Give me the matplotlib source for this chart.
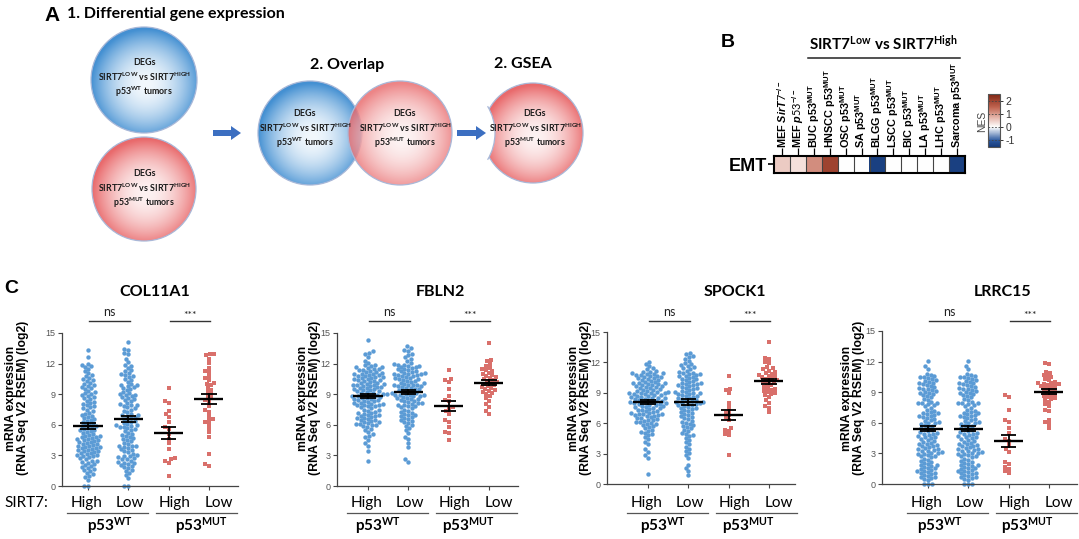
import numpy as np
import matplotlib
matplotlib.use('Agg')
import matplotlib.pyplot as plt
import matplotlib.transforms as mtrans
from matplotlib.patches import Circle, FancyArrow, Arc
from matplotlib.colors import LinearSegmentedColormap, Normalize, to_rgb
from matplotlib.cm import ScalarMappable

plt.rcParams['font.family'] = ['Lato', 'DejaVu Sans']
plt.rcParams['mathtext.fontset'] = 'custom'
plt.rcParams['mathtext.it'] = 'Liberation Sans:italic:bold'
plt.rcParams['mathtext.rm'] = 'Lato'

W, H = 1079, 539
ARIAL = 'Liberation Sans'
BLUE = '#5b9bd5'
RED = '#d9706b'

# %% data -------------------------------------------------------------
genes = ['COL11A1', 'FBLN2', 'SPOCK1', 'LRRC15']
group_labels = ['High', 'Low', 'High', 'Low']
p53_labels = [r'p53$^{\mathregular{WT}}$', r'p53$^{\mathregular{MUT}}$']

col11a1_wt_high = [
    0.0, 0.0, 0.6, 0.9, 1.0, 1.2, 1.3, 1.5, 1.6, 1.7, 1.8, 1.9,
    2.0, 2.1, 2.2, 2.3, 2.4, 2.5, 2.5, 2.6, 2.7, 2.8, 2.9, 2.9,
    3.0, 3.0, 3.1, 3.2, 3.2, 3.3, 3.4, 3.4, 3.5, 3.5, 3.6, 3.7, 3.7, 3.8, 3.8, 3.9, 3.9, 4.0,
    4.1, 4.1, 4.2, 4.3, 4.3, 4.4, 4.5, 4.5, 4.6, 4.6, 4.7, 4.8, 4.8, 4.9, 4.9, 5.0,
    5.1, 5.2, 5.3, 5.4, 5.5, 5.5, 5.6, 5.7, 5.8, 5.9, 5.9, 6.0,
    6.1, 6.2, 6.3, 6.4, 6.5, 6.6, 6.7, 6.8, 6.9, 7.0,
    7.1, 7.2, 7.4, 7.5, 7.6, 7.7, 7.8, 7.9, 8.0,
    8.1, 8.2, 8.3, 8.5, 8.6, 8.7, 8.8, 8.9, 9.0,
    9.1, 9.2, 9.3, 9.5, 9.6, 9.7, 9.8, 9.9, 10.0,
    10.1, 10.3, 10.4, 10.5, 10.6, 10.8, 10.9,
    11.1, 11.3, 11.5, 11.7, 11.8, 11.9, 12.0, 12.6, 13.3]
col11a1_wt_low = [
    0.0, 0.0, 0.8, 1.1, 1.3, 1.5, 1.6, 1.8, 1.9,
    2.0, 2.1, 2.2, 2.3, 2.3, 2.4, 2.5, 2.6, 2.6, 2.7, 2.8, 2.9, 2.9,
    3.0, 3.1, 3.3, 3.4, 3.5, 3.6, 3.7, 3.8, 3.9, 3.9, 3.95,
    4.1, 4.2, 4.4, 4.5, 4.6, 4.7, 4.8, 4.9,
    5.0, 5.1, 5.2, 5.4, 5.5, 5.6, 5.7, 5.8, 5.8, 5.9, 5.95,
    6.0, 6.1, 6.2, 6.3, 6.4, 6.5, 6.6, 6.7, 6.8, 6.9, 6.95,
    7.0, 7.1, 7.3, 7.4, 7.5, 7.6, 7.7, 7.8, 7.9, 7.95,
    8.0, 8.1, 8.3, 8.4, 8.5, 8.6, 8.7, 8.8, 8.9, 8.95,
    9.0, 9.1, 9.2, 9.4, 9.5, 9.6, 9.7, 9.8, 9.9, 9.95,
    10.0, 10.2, 10.4, 10.5, 10.7, 10.8, 10.9, 10.95,
    11.1, 11.3, 11.4, 11.6, 11.8, 11.9,
    12.2, 12.5, 12.9, 13.0, 13.3, 13.4, 14.1]
col11a1_mut_high = [9.6, 8.3, 8.1, 7.4, 7.1, 6.8, 6.3, 5.8, 5.6, 5.1, 4.6, 4.2,
                    3.6, 2.7, 2.6, 2.5, 2.3, 1.0]
col11a1_mut_low = [12.9, 12.9, 12.8, 12.5, 12.1, 11.6, 11.3, 11.2, 10.8, 10.6, 10.4, 10.1,
                   10.0, 9.9, 9.6, 9.4, 9.2, 9.0, 8.8, 8.6, 8.4, 8.3, 7.8, 7.5,
                   7.3, 6.9, 6.6, 6.5, 6.3, 6.1, 5.7, 5.3, 4.8, 3.1, 2.2, 2.0]

fbln2_wt_high = [
    2.5, 3.4, 3.9, 4.2, 4.5, 4.8, 4.9, 5.1, 5.3, 5.5, 5.6, 5.8, 5.9, 5.95,
    6.0, 6.1, 6.1, 6.2, 6.3, 6.3, 6.4, 6.5, 6.5, 6.6, 6.7, 6.7, 6.8, 6.9, 6.9, 6.95,
    7.0, 7.1, 7.2, 7.2, 7.3, 7.4, 7.5, 7.5, 7.6, 7.7, 7.8, 7.8, 7.9, 7.9, 7.95,
    8.0, 8.0, 8.1, 8.1, 8.2, 8.3, 8.3, 8.4, 8.4, 8.5, 8.5, 8.6, 8.6, 8.7, 8.7, 8.8, 8.8, 8.9, 8.9, 8.95,
    9.0, 9.0, 9.1, 9.1, 9.2, 9.3, 9.3, 9.4, 9.4, 9.5, 9.5, 9.6, 9.6, 9.7, 9.7, 9.8, 9.8, 9.9, 9.9, 9.95,
    10.0, 10.0, 10.1, 10.1, 10.2, 10.3, 10.3, 10.4, 10.4, 10.5, 10.5, 10.6, 10.6, 10.7, 10.7, 10.8,
    10.8, 10.9, 10.9, 10.95,
    11.0, 11.0, 11.1, 11.2, 11.2, 11.3, 11.4, 11.4, 11.5, 11.5, 11.6, 11.7, 11.7, 11.8, 11.9, 11.9,
    12.1, 12.3, 12.6, 12.9, 13.0, 13.2, 14.3]
fbln2_wt_low = [
    2.4, 2.6, 3.8, 4.2, 4.6, 4.8, 5.2, 5.5, 5.7, 5.9,
    6.0, 6.2, 6.3, 6.4, 6.5, 6.6, 6.7, 6.8, 6.9, 6.95,
    7.0, 7.1, 7.2, 7.3, 7.4, 7.5, 7.6, 7.7, 7.8, 7.8, 7.9, 7.95,
    8.0, 8.1, 8.1, 8.2, 8.3, 8.3, 8.4, 8.5, 8.5, 8.6, 8.6, 8.7, 8.8, 8.8, 8.9, 8.9, 8.95, 8.95,
    9.0, 9.1, 9.1, 9.2, 9.3, 9.3, 9.4, 9.5, 9.5, 9.6, 9.6, 9.7, 9.8, 9.8, 9.9, 9.9, 9.95, 9.95,
    10.0, 10.1, 10.1, 10.2, 10.3, 10.3, 10.4, 10.5, 10.5, 10.6, 10.6, 10.7, 10.8, 10.8, 10.9, 10.9,
    10.95, 10.95,
    11.0, 11.1, 11.1, 11.2, 11.3, 11.3, 11.4, 11.5, 11.5, 11.6, 11.7, 11.7, 11.8, 11.8, 11.9, 11.9, 11.95,
    12.1, 12.3, 12.5, 12.6, 12.8, 12.9, 13.2, 13.3, 13.5, 13.7]
fbln2_mut_high = [11.4, 10.5, 10.4, 10.2, 9.5, 8.8, 8.4, 8.3, 7.7, 7.6, 7.4, 7.1,
                  6.5, 6.3, 5.8, 5.3, 5.2, 4.5]
fbln2_mut_low = [14.0, 12.4, 12.3, 12.0, 11.8, 11.6, 11.5, 11.4, 11.3, 11.1,
                 11.0, 10.9, 10.8, 10.7, 10.6, 10.5, 10.4, 10.3, 10.2, 10.1,
                 10.0, 9.9, 9.8, 9.7, 9.6, 9.5, 9.4, 9.3, 9.2, 9.1,
                 9.0, 8.8, 8.6, 8.3, 8.0, 7.7, 7.4, 7.1]

spock1_wt_high = [
    1.0, 2.6, 2.9, 3.2, 3.5, 3.9, 4.1, 4.4, 4.6, 4.8, 4.9,
    5.0, 5.1, 5.2, 5.3, 5.5, 5.6, 5.7, 5.8, 5.9, 5.95,
    6.0, 6.1, 6.1, 6.2, 6.3, 6.3, 6.4, 6.5, 6.5, 6.6, 6.7, 6.7, 6.8, 6.8, 6.9, 6.9, 6.95,
    7.0, 7.0, 7.1, 7.2, 7.2, 7.3, 7.3, 7.4, 7.5, 7.5, 7.6, 7.6, 7.7, 7.7, 7.8, 7.8, 7.9, 7.9, 7.95,
    8.0, 8.0, 8.1, 8.1, 8.1, 8.2, 8.2, 8.3, 8.3, 8.4, 8.4, 8.5, 8.5, 8.5, 8.6, 8.6, 8.7, 8.7,
    8.8, 8.8, 8.9, 8.9, 8.95, 8.95,
    9.0, 9.0, 9.1, 9.1, 9.2, 9.2, 9.3, 9.3, 9.4, 9.5, 9.5, 9.6, 9.6, 9.7, 9.7, 9.8, 9.8, 9.9, 9.9, 9.95,
    10.0, 10.0, 10.1, 10.1, 10.2, 10.3, 10.3, 10.4, 10.5, 10.5, 10.6, 10.6, 10.7, 10.7, 10.8, 10.8,
    10.9, 10.9, 10.95,
    11.0, 11.1, 11.1, 11.2, 11.3, 11.4, 11.6, 11.8, 12.0]
spock1_wt_low = [
    0.9, 1.3, 1.6, 1.9, 2.6, 2.9, 3.1, 3.3, 3.5, 3.7, 3.9, 4.1, 4.3, 4.5, 4.7, 4.8, 4.9,
    5.0, 5.2, 5.3, 5.5, 5.6, 5.7, 5.8, 5.9,
    6.0, 6.1, 6.2, 6.4, 6.5, 6.6, 6.7, 6.8, 6.9,
    7.0, 7.1, 7.2, 7.3, 7.4, 7.5, 7.5, 7.6, 7.7, 7.8, 7.8, 7.9, 7.95,
    8.0, 8.0, 8.1, 8.1, 8.2, 8.3, 8.3, 8.4, 8.5, 8.5, 8.6, 8.7, 8.7, 8.8, 8.9, 8.9, 8.95,
    9.0, 9.1, 9.1, 9.2, 9.3, 9.4, 9.5, 9.5, 9.6, 9.7, 9.8, 9.8, 9.9, 9.9, 9.95,
    10.0, 10.1, 10.2, 10.3, 10.4, 10.4, 10.5, 10.6, 10.7, 10.7, 10.8, 10.9, 10.9, 10.95,
    11.0, 11.1, 11.2, 11.3, 11.4, 11.5, 11.6, 11.7, 11.8, 11.9,
    12.1, 12.3, 12.5, 12.6, 12.8, 12.9]
spock1_mut_high = [10.7, 9.4, 9.3, 9.0, 8.0, 7.6, 7.2, 7.0, 6.8, 6.6, 6.3, 5.5,
                   5.3, 5.2, 4.9, 4.8, 2.9]
spock1_mut_low = [14.0, 12.4, 12.3, 12.0, 11.9, 11.5, 11.4, 11.3, 11.2, 11.1, 11.0,
                  10.9, 10.8, 10.7, 10.7, 10.6, 10.5, 10.4, 10.3, 10.2, 10.1, 10.0,
                  9.9, 9.8, 9.6, 9.5, 9.4, 9.3, 9.2, 9.1, 9.0, 8.9,
                  8.8, 8.6, 8.3, 8.0, 7.7, 7.5, 7.1]

lrrc15_wt_high = [
    0.0, 0.0, 0.0, 0.4, 0.5, 0.6, 0.7, 0.7, 0.8, 0.9,
    1.0, 1.1, 1.1, 1.2, 1.3, 1.3, 1.4, 1.5, 1.6, 1.6, 1.7, 1.8, 1.9, 1.9,
    2.0, 2.1, 2.2, 2.3, 2.4, 2.5, 2.6, 2.7, 2.7, 2.8, 2.9, 2.95,
    3.0, 3.0, 3.1, 3.2, 3.2, 3.3, 3.4, 3.4, 3.5, 3.6, 3.7, 3.7, 3.8, 3.9, 3.95,
    4.0, 4.1, 4.2, 4.3, 4.4, 4.5, 4.6, 4.6, 4.7, 4.8, 4.9, 4.95,
    5.0, 5.1, 5.2, 5.3, 5.4, 5.5, 5.6, 5.7, 5.8, 5.9, 5.95,
    6.0, 6.1, 6.2, 6.3, 6.4, 6.5, 6.6, 6.7, 6.7, 6.8, 6.9, 6.95,
    7.0, 7.1, 7.2, 7.3, 7.5, 7.6, 7.7, 7.8, 7.9, 7.9, 7.95,
    8.0, 8.2, 8.3, 8.5, 8.6, 8.7, 8.8, 8.9, 8.95,
    9.0, 9.1, 9.2, 9.3, 9.3, 9.4, 9.5, 9.6, 9.7, 9.8, 9.9, 9.95,
    10.0, 10.1, 10.2, 10.3, 10.4, 10.5, 10.5, 10.6, 10.7, 10.8,
    11.3, 11.6, 12.1]
lrrc15_wt_low = list(lrrc15_wt_high)  # the two WT columns look identical in the source
lrrc15_mut_high = [8.7, 8.5, 7.3, 6.3, 6.1, 5.5, 5.0, 4.4, 4.2, 3.8, 3.4, 3.1,
                   2.2, 2.0, 1.7, 1.5, 1.3, 1.1]
lrrc15_mut_low = [11.9, 11.8, 11.0, 10.9, 10.7, 10.6, 10.5, 10.3, 10.2, 10.0,
                  9.9, 9.9, 9.8, 9.8, 9.7, 9.6, 9.6, 9.5, 9.4, 9.3,
                  9.2, 9.1, 9.0, 8.9, 8.8, 8.7, 8.6, 8.5, 8.4, 8.3,
                  8.2, 8.0, 7.8, 7.6, 7.3, 7.2, 6.3, 6.1, 5.9, 5.5]

expression = {
    'COL11A1': [col11a1_wt_high, col11a1_wt_low, col11a1_mut_high, col11a1_mut_low],
    'FBLN2': [fbln2_wt_high, fbln2_wt_low, fbln2_mut_high, fbln2_mut_low],
    'SPOCK1': [spock1_wt_high, spock1_wt_low, spock1_mut_high, spock1_mut_low],
    'LRRC15': [lrrc15_wt_high, lrrc15_wt_low, lrrc15_mut_high, lrrc15_mut_low],
}
significance = ['ns', '***']
y_ticks = [0, 3, 6, 9, 12, 15]

# panel B: NES of EMT signature
nes_labels = [r'MEF $\mathit{SirT7}^{\mathregular{-/-}}$', r'MEF $\mathit{p53}^{\mathregular{-/-}}$',
              r'BUC p53$^{\mathregular{MUT}}$', r'HNSCC p53$^{\mathregular{MUT}}$',
              r'OSC p53$^{\mathregular{MUT}}$', r'SA p53$^{\mathregular{MUT}}$',
              r'BLGG p53$^{\mathregular{MUT}}$', r'LSCC p53$^{\mathregular{MUT}}$',
              r'BIC p53$^{\mathregular{MUT}}$', r'LA p53$^{\mathregular{MUT}}$',
              r'LHC p53$^{\mathregular{MUT}}$', r'Sarcoma p53$^{\mathregular{MUT}}$']
nes_values = [0.5, 0.3, 1.1, 2.0, 0.0, 0.0, -1.4, 0.0, 0.0, 0.0, 0.0, -1.4]
nes_ticks = [-1, 0, 1, 2]

# %% helpers ----------------------------------------------------------
fig = plt.figure(figsize=(W / 100, H / 100), dpi=100)
bg = fig.add_axes([0, 0, 1, 1], zorder=0)
bg.axis('off')
bg.set_xlim(0, W)
bg.set_ylim(H, 0)


def px_axes(x0, y0, x1, y1, z=2):
    return fig.add_axes([x0 / W, 1 - y1 / H, (x1 - x0) / W, (y1 - y0) / H], zorder=z)


def ball(cx, cy, r, inner, outer, alpha=1.0, z=1):
    n = 240
    yy, xx = np.mgrid[-1:1:n * 1j, -1:1:n * 1j]
    rr = np.clip(np.hypot(xx - 0.04, yy - 0.08) / 1.04, 0, 1)
    t = (rr ** 1.9)[..., None]
    img = np.array(to_rgb(inner)) * (1 - t) + np.array(to_rgb(outer)) * t
    circ = Circle((cx, cy), r, facecolor='none', edgecolor='#a9b8d8', lw=0.9, zorder=z + 0.2)
    bg.add_patch(circ)
    im = bg.imshow(img, extent=(cx - r, cx + r, cy + r, cy - r), zorder=z, alpha=alpha,
                   interpolation='bilinear')
    im.set_clip_path(circ)
    return circ


def deg_text(cx, cy, mut):
    tag = 'MUT' if mut else 'WT'
    lines = ['DEGs', r'SIRT7$^{\mathregular{LOW}}$ vs SIRT7$^{\mathregular{HIGH}}$',
             r'p53$^{\mathregular{%s}}$ tumors' % tag]
    for i, s in enumerate(lines):
        bg.text(cx, cy + (i - 1) * 14.5, s, ha='center', va='center', fontsize=6.4,
                fontweight='bold', color='#1a1a1a', zorder=5)


def swarm(vals, ppu, sp, d=4.0):
    ys = np.asarray(vals, float) * ppu
    xs = np.zeros(len(ys))
    placed = []
    for i in np.argsort(ys, kind='stable'):
        y = ys[i]
        near = [(px, py) for px, py in placed if abs(py - y) < d]
        cands = [0.0]
        for px, py in near:
            h = np.sqrt(d * d - (py - y) ** 2)
            cands += [px + h, px - h]
        cands.sort(key=lambda c: (round(abs(c), 6), c))
        for c in cands:
            if all((c - px) ** 2 + (y - py) ** 2 >= d * d - 1e-6 for px, py in near):
                xs[i] = c
                break
        placed.append((xs[i], y))
    return xs / sp


# %% panel A ----------------------------------------------------------
bg.text(44, 21, 'A', fontsize=15, fontweight='bold', family=ARIAL, va='baseline')
bg.text(67, 18, '1. Differential gene expression', fontsize=11.5, fontweight='bold', va='baseline')
bg.text(347, 69, '2. Overlap', fontsize=11.5, fontweight='bold', ha='center', va='baseline')
bg.text(523, 68, '2. GSEA', fontsize=11.5, fontweight='bold', ha='center', va='baseline')

blue_in, blue_out = '#f2f8fd', '#4490d2'
red_in, red_out = '#fdf2f2', '#e96a6c'
ball(144, 80, 53, blue_in, blue_out)
deg_text(144, 77, False)
ball(144, 189, 52, red_in, red_out)
deg_text(144, 188, True)

ball(310, 133, 52, blue_in, blue_out, z=1)
ball(400, 133, 52, red_in, red_out, alpha=0.82, z=2)
deg_text(305, 128, False)
deg_text(405, 128, True)

# GSEA: red ball with the WT part bitten out of its left side
ball(533, 133, 50, red_in, red_out, z=1)
bg.add_patch(Circle((443, 133), 52, facecolor='white', edgecolor='none', zorder=1.5))
bg.add_patch(Arc((443, 133), 104, 104, theta1=-31, theta2=31, color='#a9b8d8', lw=0.9,
                 zorder=1.6))
deg_text(535, 128, True)

for x0, x1 in [(213, 241), (457, 486)]:
    bg.add_patch(FancyArrow(x0, 133, x1 - x0, 0, width=6, head_width=14, head_length=10,
                            length_includes_head=True, color='#3c6fc1', lw=0, zorder=3))

# %% panel B ----------------------------------------------------------
bg.text(721, 47, 'B', fontsize=14, fontweight='bold', family=ARIAL, va='baseline')
bg.text(883, 50, r'SIRT7$^{\mathregular{Low}}$ vs SIRT7$^{\mathregular{High}}$', fontsize=11,
        fontweight='bold', ha='center', va='baseline')
bg.plot([808, 960], [58, 58], color='#222', lw=1.1)

cmap = LinearSegmentedColormap.from_list('nes', [(0.0, '#163a7a'), (0.125, '#2d5aa0'),
                                                 (0.375, '#ffffff'), (0.55, '#e6b8ad'),
                                                 (0.75, '#c06450'), (1.0, '#7f2412')])
norm = Normalize(-1.5, 2.5)
ax_hm = px_axes(774, 156, 965, 173)
ax_hm.imshow(np.array([nes_values]), cmap=cmap, norm=norm, aspect='auto')
for b in np.arange(0.5, len(nes_values) - 0.5):
    ax_hm.axvline(b, color='#444', lw=0.8)
for s in ax_hm.spines.values():
    s.set_linewidth(1.5)
ax_hm.xaxis.tick_top()
ax_hm.set_xticks(range(len(nes_labels)))
ax_hm.set_xticklabels(nes_labels, rotation=90, fontsize=7.8, fontweight='bold', family=ARIAL,
                      va='bottom', ha='center')
ax_hm.set_yticks([0])
ax_hm.set_yticklabels(['EMT'], fontsize=13, fontweight='bold', family=ARIAL)
ax_hm.tick_params(axis='x', length=5.5, width=0.9, pad=0.5)
ax_hm.tick_params(axis='y', length=4, width=1.2, pad=1)

cax = px_axes(988, 94, 1000, 147)
cb = fig.colorbar(ScalarMappable(norm=norm, cmap=cmap), cax=cax, ticks=nes_ticks)
cb.outline.set_edgecolor('#555')
cb.outline.set_linewidth(0.8)
cax.tick_params(labelsize=7.5, length=2.5, width=0.7, colors='#333', pad=1.5)
cax.set_yticklabels(['-1', '0', '1', '2'])
for t in cax.get_yticklabels():
    t.set_family(ARIAL)
for v in nes_ticks:
    cax.axhline(v, color='#444', lw=0.6, ls=(0, (2, 2)))
bg.text(982, 121, 'NES', rotation=90, fontsize=7.5, family=ARIAL, color='#444',
        ha='center', va='center')

# %% panel C ----------------------------------------------------------
bg.text(4, 293, 'C', fontsize=14, fontweight='bold', family=ARIAL, va='baseline')
SP = 40.3
# left spine, first group, x-axis end, y=0 and y=15 in pixels; title x; ylabel x; p53 label centres
panel_px = [
    (62, 88, 238, 486, 333, 155, 17, 0.55, 2.8),
    (337, 368, 518, 486, 333, 440, 309, 0.25, 2.5),
    (607, 648, 795, 484, 332, 735, 580, 0.37, 2.48),
    (882, 928, 1077, 484, 331, 1003, 853, 0.3, 2.46),
]
label_dx = [-0.03, 1.03, 2.15, 3.25]

for k, gene in enumerate(genes):
    left, g0, right, y0, y15, tx, ylx, wt_c, mut_c = panel_px[k]
    ax = px_axes(left, y15, right, y0)
    ax.set_xlim((left - g0) / SP, (right - g0) / SP)
    ax.set_ylim(0, 15)
    ax.patch.set_alpha(0)
    ppu = (y0 - y15) / 15.0
    for g, vals in enumerate(expression[gene]):
        mut = g >= 2
        off = swarm(vals, ppu, SP)
        ax.scatter(g + off, vals, s=8 if mut else 10, marker='s' if mut else 'o',
                   color=RED if mut else BLUE, lw=0, clip_on=False, zorder=2)
        m = np.mean(vals)
        se = np.std(vals, ddof=1) / np.sqrt(len(vals))
        ax.plot([g - 0.36, g + 0.36], [m, m], color='k', lw=1.7, zorder=4, solid_capstyle='butt')
        ax.plot([g, g], [m - se, m + se], color='k', lw=1.3, zorder=4)
        for e in (m - se, m + se):
            ax.plot([g - 0.19, g + 0.19], [e, e], color='k', lw=1.3, zorder=4,
                    solid_capstyle='butt')

    for s in ['top', 'right']:
        ax.spines[s].set_visible(False)
    for s in ['left', 'bottom']:
        ax.spines[s].set_color('#444')
        ax.spines[s].set_linewidth(0.9)
    ax.set_yticks(y_ticks)
    ax.set_yticklabels([str(t) for t in y_ticks], fontsize=6.5, color='#555', family=ARIAL)
    ax.set_xticks(range(4))
    ax.set_xticklabels([])
    ax.tick_params(length=3, width=0.8, color='#444', pad=1.5)

    tr = mtrans.blended_transform_factory(ax.transData, bg.transData)
    # significance bars
    for j, lab in enumerate(significance):
        ax.plot([2 * j + 0.03, 2 * j + 1.03], [321, 321], color='#333', lw=1.0, transform=tr,
                clip_on=False)
        ax.text(2 * j + 0.53, 316 if lab == 'ns' else 318, lab, transform=tr, ha='center',
                va='baseline', fontsize=9 if lab == 'ns' else 7.5, color='#222')
    # group labels below the axis
    for g, lab in enumerate(group_labels):
        ax.text(label_dx[g], 503, lab, transform=tr, ha='center', va='center', fontsize=11)
    for (a, b), c, lab in zip([(-0.53, 1.48), (1.68, 3.69)], [wt_c, mut_c], p53_labels):
        ax.plot([a, b], [513, 513], color='#555', lw=0.9, transform=tr, clip_on=False)
        ax.text(c, 526, lab, transform=tr, ha='center', va='center', fontsize=11,
                fontweight='bold')
    bg.text(tx, 292, gene, ha='center', va='center', fontsize=11.5, fontweight='bold')
    bg.text(ylx, 398, 'mRNA expression\n(RNA Seq V2 RSEM) (log2)', rotation=90,
            ha='center', va='center', fontsize=8.8, fontweight='bold', family=ARIAL,
            linespacing=1.05, multialignment='center')

bg.text(4, 503, 'SIRT7:', ha='left', va='center', fontsize=11)

bg.set_xlim(0, W)
bg.set_ylim(H, 0)
bg.set_aspect('auto')
fig.savefig('out.png', dpi=100)
